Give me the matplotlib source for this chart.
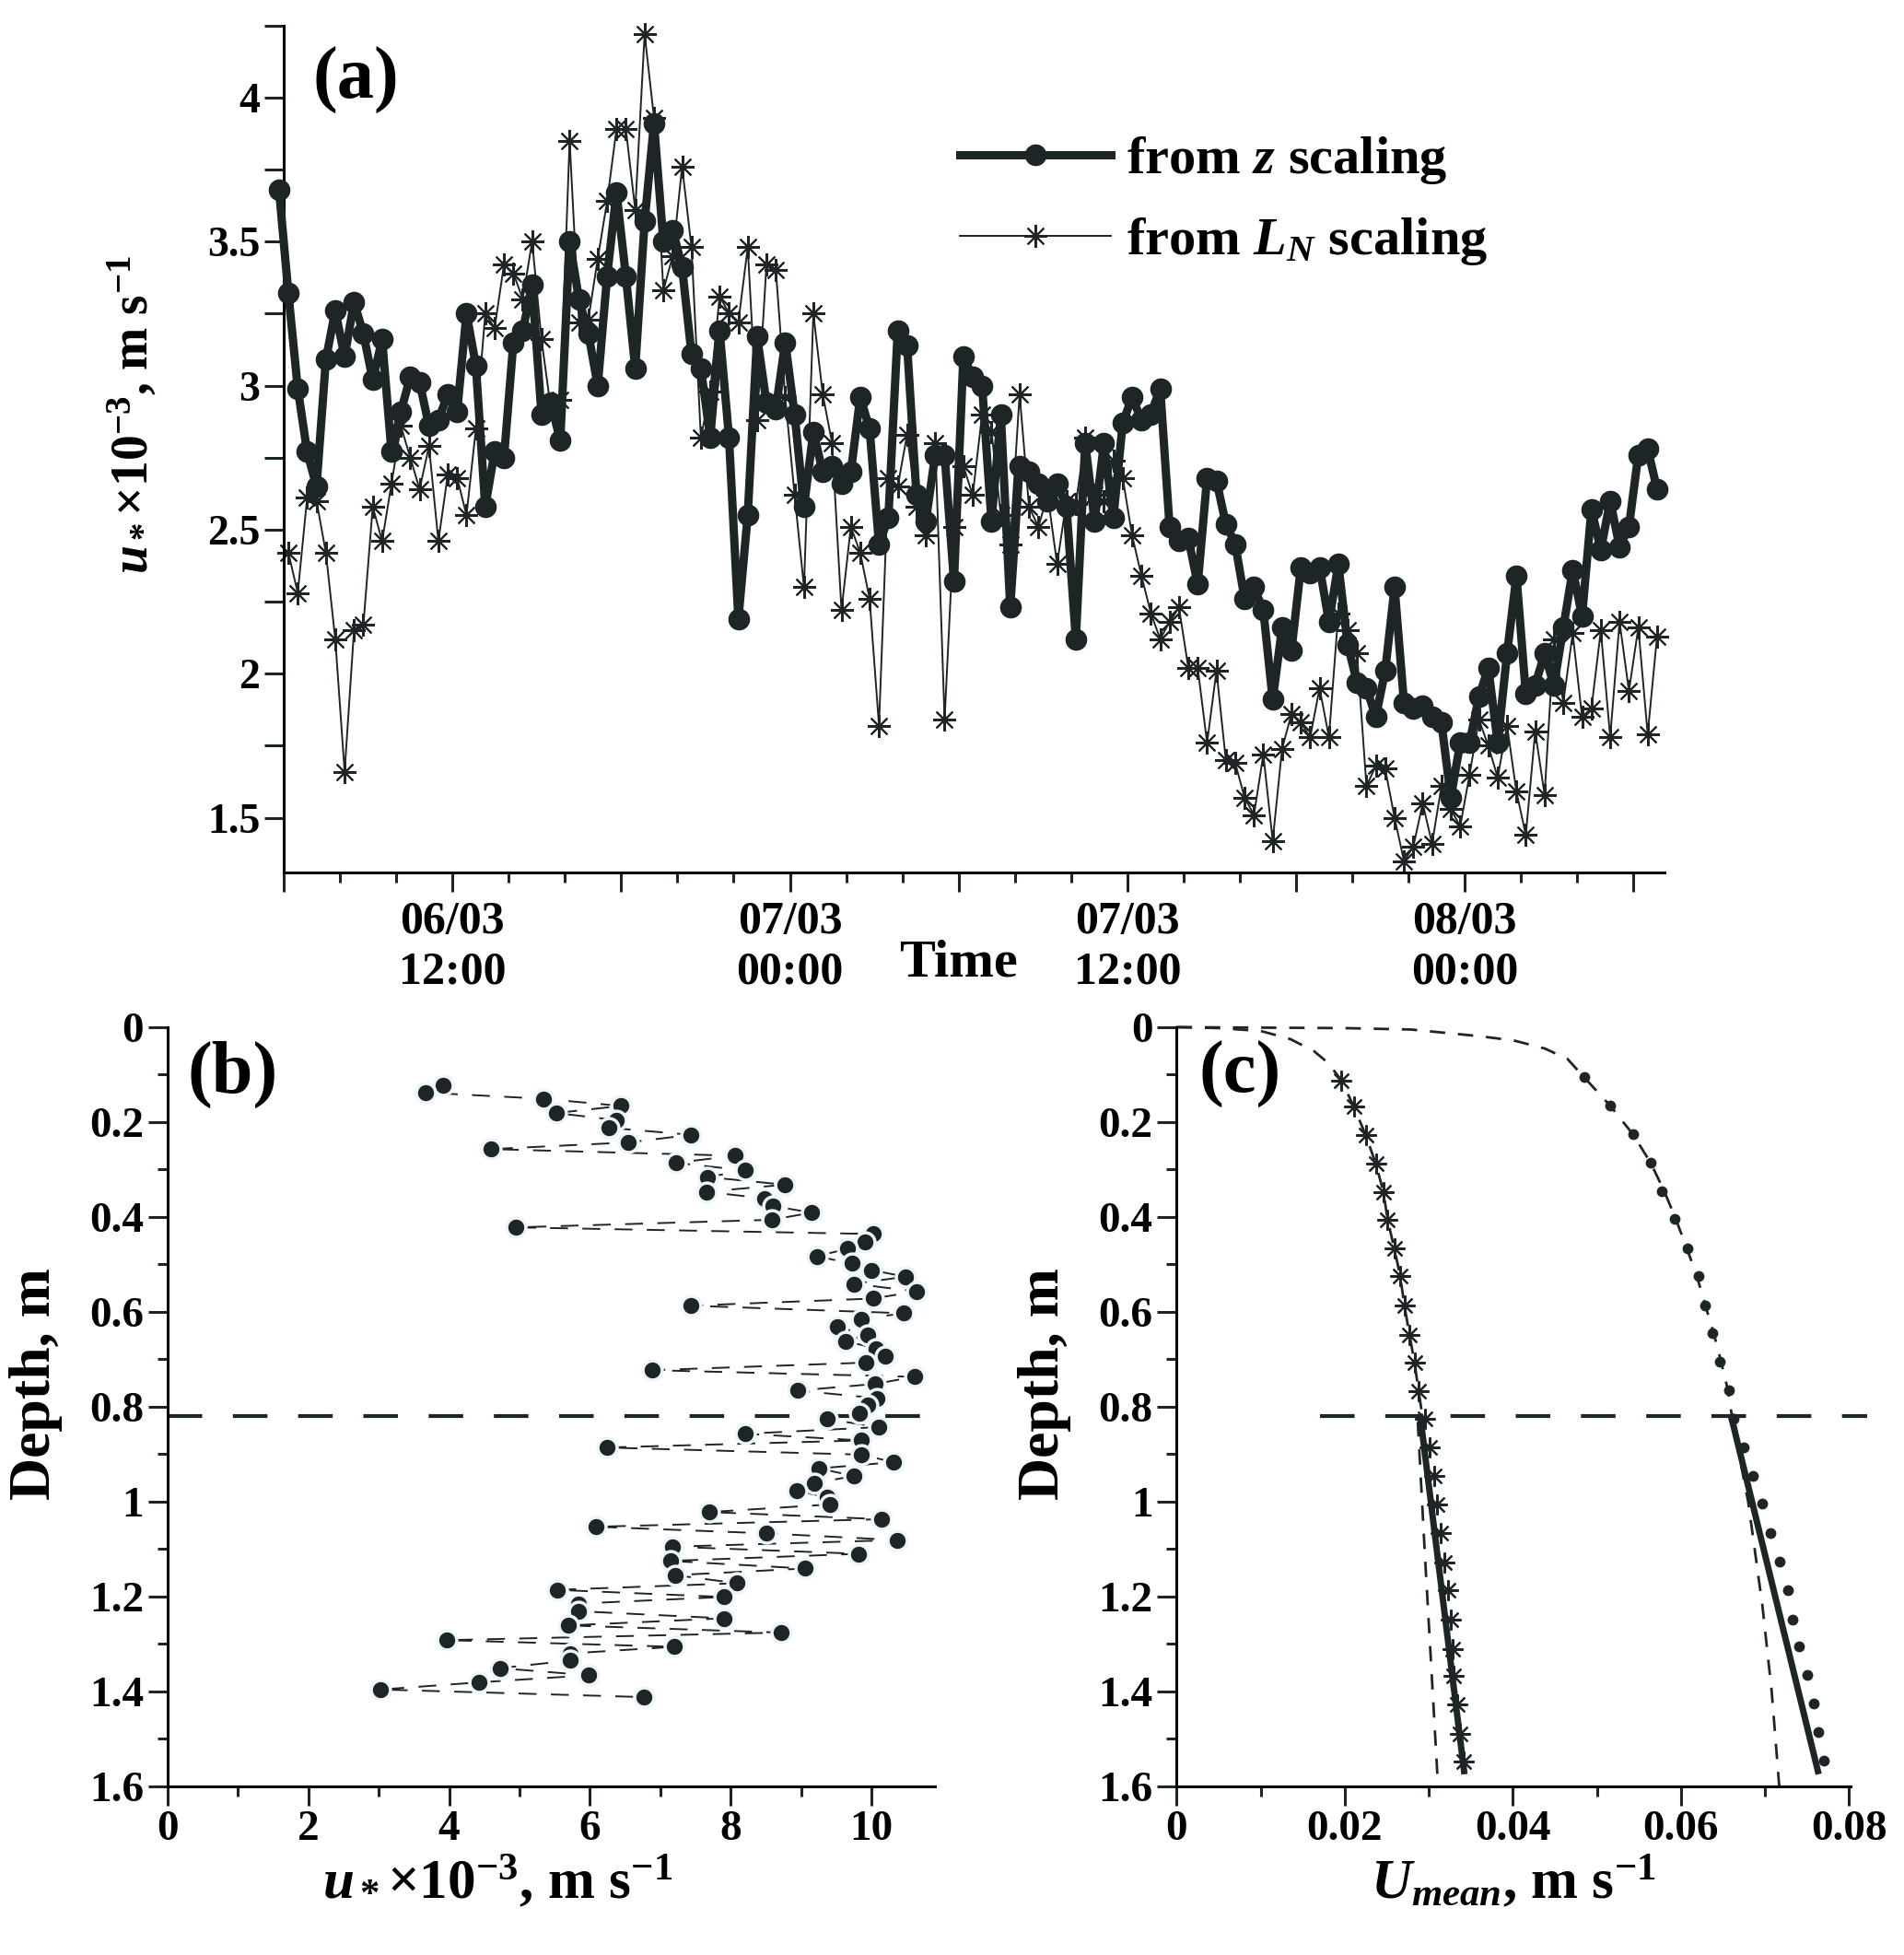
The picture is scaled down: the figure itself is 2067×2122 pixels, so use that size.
import numpy as np
import pandas as pd
import matplotlib
matplotlib.use('Agg')
import matplotlib.pyplot as plt
import matplotlib.dates as mdates
from matplotlib.ticker import MultipleLocator, FuncFormatter

plt.rcParams['font.family'] = ['Liberation Serif', 'DejaVu Serif']
plt.rcParams['font.weight'] = 'bold'
plt.rcParams['mathtext.fontset'] = 'custom'
plt.rcParams['mathtext.rm'] = 'Liberation Serif:bold'
plt.rcParams['mathtext.it'] = 'Liberation Serif:italic:bold'
plt.rcParams['mathtext.bf'] = 'Liberation Serif:bold'
plt.rcParams['axes.linewidth'] = 2.2

INK = '#1e2527'

# ---- panel (a): friction velocity time series, one value every 20 min ----
start_time = '2019-03-06 05:50'
ustar_z = [
    3.68, 3.32, 2.99, 2.77, 2.65, 3.09, 3.26, 3.10, 3.29, 3.18,
    3.02, 3.16, 2.77, 2.91, 3.03, 3.01, 2.86, 2.88, 2.97, 2.91,
    3.25, 3.07, 2.58, 2.77, 2.75, 3.15, 3.19, 3.35, 2.90, 2.94,
    2.81, 3.50, 3.30, 3.18, 3.00, 3.38, 3.67, 3.38, 3.06, 3.57,
    3.91, 3.50, 3.54, 3.41, 3.11, 3.06, 2.82, 3.19, 2.82, 2.19,
    2.55, 3.17, 2.94, 2.92, 3.15, 2.90, 2.58, 2.84, 2.70, 2.72,
    2.66, 2.70, 2.96, 2.85, 2.45, 2.54, 3.19, 3.14, 2.62, 2.53,
    2.76, 2.76, 2.32, 3.10, 3.03, 3.00, 2.53, 2.90, 2.23, 2.72,
    2.70, 2.66, 2.60, 2.66, 2.58, 2.12, 2.80, 2.53, 2.80, 2.54,
    2.87, 2.96, 2.88, 2.90, 2.99, 2.51, 2.46, 2.47, 2.31, 2.68,
    2.67, 2.52, 2.45, 2.26, 2.30, 2.22, 1.91, 2.16, 2.08, 2.37,
    2.35, 2.37, 2.18, 2.38, 2.10, 1.97, 1.95, 1.85, 2.01, 2.30,
    1.90, 1.88, 1.89, 1.85, 1.83, 1.57, 1.76, 1.76, 1.92, 2.02,
    1.76, 2.07, 2.34, 1.93, 1.96, 2.07, 1.96, 2.16, 2.36, 2.20,
    2.57, 2.43, 2.60, 2.44, 2.51, 2.76, 2.78, 2.64,
]
# L_N scaling starts one step later
ustar_ln = [
    2.42, 2.28, 2.61, 2.60, 2.42, 2.12, 1.66, 2.15, 2.17, 2.58,
    2.46, 2.66, 2.86, 2.75, 2.64, 2.79, 2.46, 2.69, 2.68, 2.55,
    2.85, 3.25, 3.20, 3.42, 3.39, 3.30, 3.50, 3.16, 2.92, 2.95,
    3.85, 3.22, 3.23, 3.44, 3.64, 3.89, 3.89, 3.61, 4.22, 3.93,
    3.33, 3.45, 3.76, 3.48, 2.82, 2.98, 3.31, 3.25, 3.22, 3.48,
    2.88, 3.42, 3.40, 2.96, 2.62, 2.30, 3.25, 2.97, 2.80, 2.22,
    2.51, 2.42, 2.26, 1.82, 2.68, 2.65, 2.83, 2.58, 2.48, 2.80,
    1.84, 2.51, 2.72, 2.62, 2.90, 2.84, 2.55, 2.45, 2.97, 2.58,
    2.51, 2.62, 2.38, 2.60, 2.59, 2.82, 2.62, 2.60, 2.74, 2.68,
    2.48, 2.34, 2.21, 2.12, 2.18, 2.23, 2.02, 2.02, 1.76, 2.01,
    1.70, 1.69, 1.57, 1.51, 1.72, 1.42, 1.74, 1.86, 1.83, 1.78,
    1.95, 1.78, 2.21, 2.15, 2.07, 1.61, 1.68, 1.67, 1.50, 1.35,
    1.40, 1.55, 1.41, 1.61, 1.53, 1.47, 1.65, 1.84, 1.75, 1.64,
    1.82, 1.59, 1.44, 1.80, 1.58, 2.12, 1.90, 2.14, 1.85, 1.88,
    2.15, 1.78, 2.18, 1.94, 2.16, 1.79, 2.13,
]

# ---- panel (b): u* profile ----
ustar_prof = [
    3.91, 3.67, 5.34, 6.44, 5.52, 6.38, 6.27, 7.44, 6.54, 4.59,
    8.06, 7.22, 8.21, 7.67, 8.77, 7.65, 8.48, 8.60, 9.15, 8.58,
    4.95, 10.03, 9.91, 9.66, 9.22, 9.72, 10.00, 10.48, 9.75, 10.64,
    10.02, 7.43, 10.46, 9.86, 9.51, 9.94, 9.63, 10.07, 10.19, 9.92,
    6.89, 10.61, 10.05, 8.95, 10.08, 9.94, 9.83, 9.37, 10.10, 8.21,
    9.85, 6.24, 9.86, 10.31, 9.25, 9.75, 9.19, 8.94, 9.37, 9.41,
    7.70, 10.14, 6.09, 8.51, 10.36, 7.17, 9.82, 7.14, 9.05, 7.21,
    8.09, 5.53, 7.90, 5.84, 5.84, 7.90, 5.69, 8.71, 3.97, 7.20,
    5.72, 5.72, 4.72, 5.98, 4.42, 3.03, 6.76,
]
depth_prof = [
    0.123, 0.138, 0.151, 0.166, 0.181, 0.196, 0.212, 0.227, 0.243, 0.257,
    0.271, 0.286, 0.302, 0.316, 0.332, 0.347, 0.361, 0.377, 0.391, 0.406,
    0.422, 0.436, 0.452, 0.467, 0.483, 0.498, 0.512, 0.526, 0.541, 0.557,
    0.572, 0.587, 0.603, 0.615, 0.632, 0.648, 0.662, 0.677, 0.693, 0.707,
    0.723, 0.737, 0.752, 0.766, 0.782, 0.797, 0.813, 0.826, 0.843, 0.857,
    0.871, 0.886, 0.901, 0.917, 0.930, 0.946, 0.961, 0.977, 0.991, 1.006,
    1.022, 1.037, 1.053, 1.067, 1.081, 1.095, 1.110, 1.125, 1.141, 1.155,
    1.172, 1.186, 1.201, 1.215, 1.231, 1.246, 1.261, 1.276, 1.292, 1.306,
    1.320, 1.335, 1.351, 1.366, 1.381, 1.396, 1.412,
]
layer_depth = 0.82

# ---- panel (c): mean velocity profiles ----
umean_dots = [0.0485, 0.0516, 0.0543, 0.0564, 0.0577, 0.0592, 0.0608, 0.0621, 0.0629,
              0.0638, 0.0646, 0.0657, 0.0663, 0.0675, 0.0686, 0.0697, 0.0707, 0.0717,
              0.0727, 0.0733, 0.0741, 0.0750, 0.0758, 0.0764, 0.0770]
depth_dots = [0.106, 0.166, 0.226, 0.286, 0.345, 0.405, 0.466, 0.525, 0.586, 0.645,
              0.706, 0.766, 0.826, 0.886, 0.945, 1.005, 1.067, 1.126, 1.186, 1.248,
              1.306, 1.366, 1.426, 1.486, 1.545]
umean_stars = [0.0196, 0.0211, 0.0225, 0.0237, 0.0246, 0.0251, 0.0259, 0.0266, 0.0271,
               0.0277, 0.0283, 0.0288, 0.0296, 0.0301, 0.0306, 0.0310, 0.0314, 0.0318,
               0.0323, 0.0326, 0.0328, 0.0330, 0.0334, 0.0337, 0.0341]
depth_stars = [0.112, 0.168, 0.228, 0.288, 0.347, 0.406, 0.467, 0.525, 0.587, 0.648,
               0.707, 0.768, 0.826, 0.886, 0.946, 1.006, 1.067, 1.128, 1.187, 1.248,
               1.310, 1.368, 1.428, 1.489, 1.548]
# dashed fits
fit_outer_u = [0.0, 0.010, 0.020, 0.0279, 0.032, 0.036, 0.0401, 0.0438, 0.0465, 0.0485,
               0.0516, 0.0543, 0.0564, 0.0580, 0.0594, 0.0607, 0.0619, 0.0629, 0.0639,
               0.0648, 0.0656, 0.0662, 0.0680, 0.0697, 0.0708, 0.0717]
fit_outer_d = [0.0, 0.001, 0.002, 0.005, 0.012, 0.019, 0.028, 0.045, 0.067, 0.106,
               0.166, 0.226, 0.286, 0.345, 0.405, 0.466, 0.525, 0.586, 0.645,
               0.706, 0.766, 0.835, 1.0, 1.22, 1.40, 1.60]
fit_inner_u = [0.0, 0.005, 0.010, 0.0135, 0.0163, 0.0180, 0.0196, 0.0211, 0.0225, 0.0237,
               0.0246, 0.0251, 0.0259, 0.0266, 0.0271, 0.0277, 0.0283, 0.0288, 0.0292,
               0.0287, 0.0295, 0.0303, 0.0311]
fit_inner_d = [0.0, 0.002, 0.008, 0.025, 0.050, 0.075, 0.112, 0.168, 0.228, 0.288,
               0.347, 0.406, 0.467, 0.525, 0.587, 0.648, 0.707, 0.768, 0.815,
               0.835, 1.10, 1.35, 1.60]
zfit_outer_u = [0.0660, 0.0763]
zfit_inner_u = [0.0290, 0.0342]
zfit_d = [0.822, 1.568]
layer_line_c = [0.017, 0.0822]


def style_axes(ax, labelsize):
    """
    Left/bottom spines only, outward ticks.
    """
    for side in ('top', 'right'):
        ax.spines[side].set_visible(False)
    ax.tick_params(which='both', direction='out', colors=INK, width=2.2,
                   labelsize=labelsize, labelcolor='black')
    ax.tick_params(which='major', length=15)
    ax.tick_params(which='minor', length=8)
    for lbl in ax.get_xticklabels() + ax.get_yticklabels():
        lbl.set_fontweight('bold')


def draw_time_series(fig):
    """
    Panel (a).
    """
    ax = fig.add_axes([0.149, 0.5537, 0.725, 0.4333])
    times = pd.date_range(start_time, periods=len(ustar_z), freq='20min')
    ax.plot(times[1:], ustar_ln, '-', color=INK, lw=1.4, marker=(8, 2, 0), ms=18,
            mew=1.5, clip_on=False, zorder=2, label=r'from $L_N$ scaling')
    ax.plot(times, ustar_z, '-o', color=INK, lw=6.5, ms=17, mew=0, clip_on=False,
            zorder=3, label=r'from $z$ scaling')
    ax.set_xlim(pd.Timestamp('2019-03-06 06:00'), pd.Timestamp('2019-03-08 07:05'))
    ax.set_ylim(1.31, 4.25)

    ax.xaxis.set_major_locator(mdates.HourLocator(byhour=[0, 6, 12, 18]))
    ax.xaxis.set_minor_locator(mdates.HourLocator(byhour=range(0, 24, 2)))

    def time_label(x, pos):
        d = mdates.num2date(x)
        if d.hour in (0, 12):
            return d.strftime('%d/%m\n%H:%M')
        return ''
    ax.xaxis.set_major_formatter(FuncFormatter(time_label))
    ax.yaxis.set_major_locator(MultipleLocator(0.5))
    ax.yaxis.set_minor_locator(MultipleLocator(0.25))
    ax.yaxis.set_major_formatter(FuncFormatter(lambda v, p: '%g' % v))
    style_axes(ax, 33)
    ax.tick_params(axis='x', labelsize=36, pad=7)
    ax.tick_params(axis='y', which='minor', length=15)
    for lbl in ax.get_xticklabels():
        lbl.set_linespacing(1.25)

    ax.set_ylabel(r'$u_*$×10$^{-3}$, m s$^{-1}$', fontsize=40, fontweight='bold')
    ax.yaxis.set_label_coords(-0.09, 0.54)
    ax.text(0.489, -0.107, 'Time', transform=ax.transAxes, ha='center', va='center',
            fontsize=42, fontweight='bold')
    ax.text(0.052, 0.935, '(a)', transform=ax.transAxes, ha='center', va='center',
            fontsize=58, fontweight='bold')

    handles, labels = ax.get_legend_handles_labels()
    ax.legend(handles[::-1], labels[::-1], loc='upper left', bbox_to_anchor=(0.49, 0.871),
              frameon=False, fontsize=42, handlelength=2.8, handletextpad=0.3,
              labelspacing=0.55, borderpad=0, borderaxespad=0, numpoints=1)


def draw_depth_axes(ax):
    ax.set_ylim(1.6, 0)
    ax.yaxis.set_major_locator(MultipleLocator(0.2))
    ax.yaxis.set_minor_locator(MultipleLocator(0.1))
    ax.yaxis.set_major_formatter(FuncFormatter(lambda v, p: '%g' % round(v, 2)))
    ax.xaxis.set_major_formatter(FuncFormatter(lambda v, p: '%g' % round(v, 3)))
    style_axes(ax, 34)
    ax.set_ylabel('Depth, m', fontsize=46, fontweight='bold')


def draw_ustar_profile(fig):
    """
    Panel (b).
    """
    ax = fig.add_axes([0.088, 0.0863, 0.403, 0.3883])
    ax.plot(ustar_prof, depth_prof, color=INK, lw=1.4, dashes=(10, 8), marker='o',
            ms=15, mfc=INK, mec='#eef6fa', mew=2.5, clip_on=False, zorder=3)
    ax.axhline(layer_depth, color=INK, lw=3, dashes=(9, 8), zorder=2)
    ax.set_xlim(0, 10.9)
    ax.xaxis.set_major_locator(MultipleLocator(2))
    ax.xaxis.set_minor_locator(MultipleLocator(1))
    draw_depth_axes(ax)
    ax.yaxis.set_label_coords(-0.137, 0.53)
    ax.set_xlabel(r'$u_*$×10$^{-3}$, m s$^{-1}$', fontsize=44, fontweight='bold')
    ax.xaxis.set_label_coords(0.43, -0.09)
    ax.text(0.085, 0.937, '(b)', transform=ax.transAxes, ha='center', va='center',
            fontsize=58, fontweight='bold')


def draw_velocity_profile(fig):
    """
    Panel (c).
    """
    ax = fig.add_axes([0.618, 0.0863, 0.354, 0.3883])
    ax.plot(fit_outer_u, fit_outer_d, color=INK, lw=2, dashes=(6, 5), clip_on=False)
    ax.plot(fit_inner_u, fit_inner_d, color=INK, lw=2, dashes=(6, 5), clip_on=False)
    ax.plot(zfit_outer_u, zfit_d, color=INK, lw=5)
    ax.plot(zfit_inner_u, zfit_d, color=INK, lw=5)
    ax.plot(umean_dots, depth_dots, 'o', color=INK, ms=8.5, mew=0, clip_on=False, zorder=4)
    ax.plot(umean_stars, depth_stars, ls='none', marker=(8, 2, 0), color=INK, ms=16,
            mew=1.6, clip_on=False, zorder=4)
    ax.plot(layer_line_c, [layer_depth, layer_depth], color=INK, lw=3, dashes=(9, 8),
            clip_on=False)
    ax.set_xlim(0, 0.0802)
    ax.xaxis.set_major_locator(MultipleLocator(0.02))
    ax.xaxis.set_minor_locator(MultipleLocator(0.01))
    draw_depth_axes(ax)
    ax.yaxis.set_label_coords(-0.156, 0.53)
    ax.set_xlabel(r'$U_{mean}$, m s$^{-1}$', fontsize=44, fontweight='bold')
    ax.xaxis.set_label_coords(0.5, -0.09)
    ax.text(0.094, 0.937, '(c)', transform=ax.transAxes, ha='center', va='center',
            fontsize=58, fontweight='bold')


fig = plt.figure(figsize=(20.67, 21.22), dpi=100)
draw_time_series(fig)
draw_ustar_profile(fig)
draw_velocity_profile(fig)
fig.savefig('out.png', dpi=100, facecolor='white')
